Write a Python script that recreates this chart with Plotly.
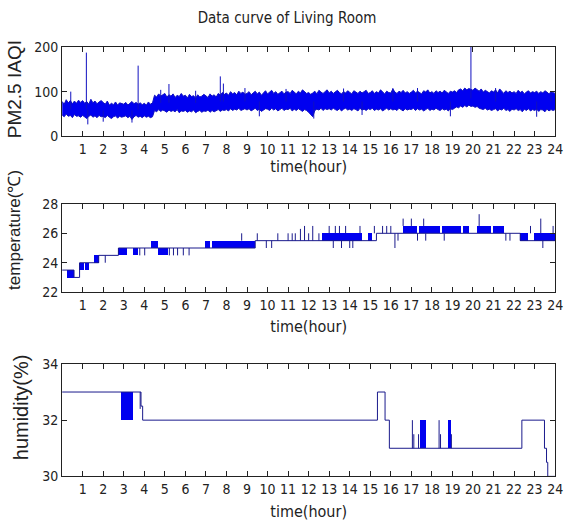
import plotly.graph_objects as go

# ---------------- data ----------------
tick_hours = list(range(1, 25))

# PM2.5 IAQI noisy band, read every 0.1 hour: upper and lower edge of the band
pm_step = 0.1
pm_hi = [
    78, 72, 82, 75, 80, 73, 79, 74, 81, 76,
    80, 74, 78, 72, 83, 75, 79, 73, 77, 80,
    76, 72, 79, 70, 74, 71, 77, 70, 75, 73,
    72, 76, 70, 74, 78, 73, 76, 72, 75, 71,
    74, 70, 77, 72, 75, 92, 88, 95, 90, 93,
    96, 88, 93, 90, 95, 87, 92, 89, 96, 90,
    92, 86, 94, 89, 91, 85, 93, 88, 90, 94,
    91, 87, 95, 90, 93, 88, 96, 92, 98, 94,
    97, 92, 100, 95, 98, 93, 101, 96, 99, 94,
    96, 100, 93, 97, 101, 95, 99, 92, 98, 102,
    95, 99, 103, 96, 100, 94, 98, 101, 95, 99,
    100, 96, 103, 98, 95, 101, 97, 104, 99, 96,
    98, 94, 97, 101, 95, 103, 99, 96, 100, 104,
    97, 101, 96, 99, 103, 98, 95, 100, 97, 102,
    99, 95, 102, 98, 96, 101, 97, 100, 103, 96,
    98, 102, 96, 100, 97, 104, 99, 95, 101, 98,
    97, 106, 99, 96, 101, 98, 103, 97, 100, 96,
    99, 103, 97, 101, 98, 95, 102, 99, 104, 97,
    100, 96, 102, 98, 101, 97, 103, 99, 96, 101,
    99, 102, 98, 104, 106, 102, 108, 104, 107, 105,
    103, 108, 104, 101, 106, 99, 103, 100, 97, 102,
    99, 104, 97, 106, 100, 96, 102, 98, 101, 97,
    100, 96, 103, 98, 101, 95, 99, 102, 97, 100,
    98, 101, 96, 100, 97, 102, 99, 95, 100, 97,
    96,
]
pm_lo = [
    48, 44, 50, 45, 47, 42, 49, 45, 46, 43,
    47, 44, 40, 45, 48, 43, 46, 42, 47, 44,
    45, 42, 47, 43, 40, 44, 46, 41, 45, 43,
    44, 46, 42, 45, 38, 44, 47, 43, 45, 42,
    46, 43, 45, 42, 44, 58, 55, 60, 56, 59,
    57, 54, 59, 56, 58, 55, 60, 53, 57, 56,
    58, 54, 57, 55, 59, 53, 56, 58, 54, 57,
    56, 59, 54, 58, 55, 57, 60, 56, 59, 58,
    60, 57, 62, 58, 61, 59, 63, 58, 60, 62,
    59, 62, 57, 60, 63, 58, 61, 56, 60, 62,
    61, 58, 63, 59, 62, 57, 60, 63, 58, 61,
    60, 63, 57, 61, 58, 62, 59, 56, 60, 58,
    54, 50, 44, 58, 61, 59, 63, 58, 62, 60,
    62, 59, 63, 60, 58, 62, 57, 61, 63, 59,
    61, 58, 62, 60, 57, 63, 59, 61, 58, 62,
    60, 63, 58, 61, 59, 62, 57, 60, 63, 59,
    62, 59, 61, 58, 63, 60, 57, 62, 59, 61,
    60, 63, 58, 62, 59, 61, 57, 60, 63, 58,
    61, 59, 63, 60, 58, 62, 59, 61, 57, 62,
    60, 63, 66, 64, 68, 65, 69, 66, 70, 67,
    68, 65, 67, 63, 62, 60, 63, 59, 61, 58,
    60, 62, 57, 61, 59, 63, 58, 60, 56, 61,
    59, 62, 58, 60, 55, 61, 58, 62, 57, 60,
    58, 61, 56, 60, 59, 55, 61, 57, 60, 58,
    60,
]
pm_time = [i * pm_step for i in range(len(pm_hi))]
# isolated peaks / dips of PM2.5 (time, band level, extreme value)
pm_spk_t = [0.42, 1.18, 1.25, 2.0, 3.4, 3.7, 4.8, 5.2, 6.5, 7.7, 7.85, 8.9, 9.6,
            10.9, 12.25, 13.7, 14.6, 16.1, 17.3, 18.9, 19.9, 21.1, 23.1, 23.8]
pm_spk_base = [60, 62, 60, 58, 58, 60, 75, 75, 75, 78, 78, 78, 78,
               78, 78, 78, 78, 78, 78, 78, 85, 78, 78, 78]
pm_spk_val = [100, 187, 27, 33, 31, 158, 104, 117, 102, 134, 118, 108, 45,
              106, 40, 107, 48, 108, 108, 45, 205, 108, 44, 100]

# Temperature: base step level + rapid-oscillation blocks + single spikes
temp_base_t = [0, 0.58, 0.85, 1.78, 2.74, 9.4, 15.3, 22.3, 24]
temp_base_v = [23.5, 23.0, 24.0, 24.5, 25.0, 25.5, 26.0, 25.5, 25.5]
temp_blk_start = [0.26, 0.85, 1.12, 1.58, 2.74, 3.46, 4.34, 4.69, 6.98, 7.3, 12.66, 14.9,
                  16.6, 17.4, 18.5, 19.5, 20.2, 21.0, 22.3, 23.0]
temp_blk_end = [0.58, 1.05, 1.30, 1.78, 3.18, 3.70, 4.66, 5.14, 7.2, 9.4, 14.6, 15.1,
                17.3, 18.4, 19.4, 19.8, 20.9, 21.5, 22.7, 24.0]
temp_blk_low = [23.0, 23.5, 23.5, 24.0, 24.5, 24.5, 25.0, 24.5, 25.0, 25.0, 25.5, 25.5,
                26.0, 26.0, 26.0, 26.0, 26.0, 26.0, 25.5, 25.5]
temp_blk_high = [23.5, 24.0, 24.0, 24.5, 25.0, 25.0, 25.5, 25.0, 25.5, 25.5, 26.0, 26.0,
                 26.5, 26.5, 26.5, 26.5, 26.5, 26.5, 26.0, 26.0]
temp_spk_t = [2.1, 3.78, 4.02, 5.22, 5.42, 5.62, 5.9, 6.18, 8.74, 9.5, 9.94, 10.2, 10.5,
              11.0, 11.2, 11.35, 11.6, 11.8, 12.0, 12.2, 12.5, 13.2, 13.6, 14.0, 14.15,
              13.0, 13.3, 13.5, 13.8, 14.5, 15.2, 15.6, 15.8, 16.0, 16.2, 16.35,
              16.6, 17.0, 17.6, 18.6, 17.3, 17.7, 20.3, 21.6, 21.8, 22.8, 23.3, 23.4, 23.9]
temp_spk_low = [24.0, 24.5, 24.5, 24.5, 24.5, 24.5, 24.5, 24.5, 25.5, 25.5, 25.0, 25.0, 25.5,
                25.5, 25.5, 25.5, 25.5, 25.5, 25.5, 25.5, 25.5, 25.0, 25.0, 25.0, 25.0,
                26.0, 26.0, 26.0, 26.0, 26.0, 26.0, 26.0, 26.0, 26.0, 25.0, 25.5,
                26.5, 26.5, 26.5, 25.5, 25.5, 25.5, 26.5, 25.5, 25.5, 26.0, 26.0, 25.0, 26.0]
temp_spk_high = [24.5, 25.0, 25.0, 25.0, 25.0, 25.0, 25.0, 25.0, 26.0, 26.0, 25.5, 25.5, 26.0,
                 26.0, 26.0, 26.0, 26.3, 26.5, 26.0, 26.5, 26.0, 25.5, 25.5, 25.5, 25.5,
                 26.5, 26.5, 26.5, 26.5, 26.5, 26.5, 26.5, 26.5, 26.5, 26.0, 26.0,
                 27.0, 27.0, 27.0, 26.0, 26.0, 26.0, 27.3, 26.0, 26.0, 26.5, 27.0, 25.5, 26.5]

# Humidity
hum_base_t = [0, 3.84, 3.92, 15.35, 15.72, 15.93, 22.38, 23.48, 23.58, 23.64, 24]
hum_base_v = [33, 32.5, 32, 33, 32, 31, 32, 31, 30.5, 30, 30]
hum_blk_start = [2.86, 17.42, 18.78]
hum_blk_end = [3.48, 17.72, 18.92]
hum_blk_low = [32, 31, 31]
hum_blk_high = [33, 32, 32]
hum_spk_t = [3.80, 17.05, 17.12, 17.35, 18.35, 18.42, 18.95]
hum_spk_low = [32.4, 31, 31, 31, 31, 31, 31]
hum_spk_high = [33, 32, 31.5, 31.5, 32, 31.5, 31.5]

# ---------------- styling ----------------
LINE = "#1a1a8c"
FILL = "#0000f0"
EDGE = "#1010c0"
NARROW = "Liberation Sans Narrow, Arial Narrow, DejaVu Sans Condensed, Liberation Sans, Arial"
REG = "Liberation Sans, Arial, sans-serif"
W, H = 574, 529


def py(px):
    return 1 - px / H


fig = go.Figure()


def add_blocks(starts, ends, lows, highs, xa, ya):
    fig.add_trace(go.Bar(
        x=[(a + b) / 2 for a, b in zip(starts, ends)],
        y=[h - l for l, h in zip(lows, highs)],
        base=lows,
        width=[b - a for a, b in zip(starts, ends)],
        marker=dict(color=FILL, line=dict(width=0)),
        xaxis=xa, yaxis=ya, showlegend=False, hoverinfo="skip"))


def add_spikes(ts, lows, highs, xa, ya, color):
    xs, ys = [], []
    for t, l, h in zip(ts, lows, highs):
        xs += [t, t, None]
        ys += [l, h, None]
    fig.add_trace(go.Scatter(x=xs, y=ys, mode="lines", line=dict(color=color, width=1),
                             xaxis=xa, yaxis=ya, showlegend=False, hoverinfo="skip"))


# panel 1: noisy band (lower edge, then upper edge filled down to it) + peaks
fig.add_trace(go.Scatter(x=pm_time, y=pm_lo, mode="lines",
                         line=dict(color=EDGE, width=1), xaxis="x", yaxis="y",
                         showlegend=False))
fig.add_trace(go.Scatter(x=pm_time, y=pm_hi, mode="lines", fill="tonexty",
                         fillcolor=FILL, line=dict(color=EDGE, width=1),
                         xaxis="x", yaxis="y", showlegend=False))
add_spikes(pm_spk_t, pm_spk_base, pm_spk_val, "x", "y", EDGE)
# panel 2
add_blocks(temp_blk_start, temp_blk_end, temp_blk_low, temp_blk_high, "x2", "y2")
fig.add_trace(go.Scatter(x=temp_base_t, y=temp_base_v, mode="lines", line_shape="hv",
                         line=dict(color=LINE, width=1), xaxis="x2", yaxis="y2",
                         showlegend=False))
add_spikes(temp_spk_t, temp_spk_low, temp_spk_high, "x2", "y2", LINE)
# panel 3
add_blocks(hum_blk_start, hum_blk_end, hum_blk_low, hum_blk_high, "x3", "y3")
fig.add_trace(go.Scatter(x=hum_base_t, y=hum_base_v, mode="lines", line_shape="hv",
                         line=dict(color=LINE, width=1), xaxis="x3", yaxis="y3",
                         showlegend=False))
add_spikes(hum_spk_t, hum_spk_low, hum_spk_high, "x3", "y3", LINE)

xdom = [63 / W, 563 / W]
# (axis suffix, domain px, range, ticks, y label, label size, label centre x/y px,
#  x-title standoff)
panels = [
    ("", [132.5, 40], [0, 200], [0, 100, 200], "PM2.5 IAQI", 19, 15, 84, 4),
    ("2", [293, 202], [22, 28], [22, 24, 26, 28], "temperature(℃)", 17, 14, 229, 8),
    ("3", [483, 367], [30, 34], [30, 32, 34], "humidity(%)", 20, 21, 412, 9),
]
axis_common = dict(showline=True, linecolor="#222", linewidth=1, mirror="ticks",
                   ticks="inside", ticklen=5, tickcolor="#222", showgrid=False,
                   zeroline=False, tickfont=dict(family=NARROW, size=14, color="#222"))
annotations = []
for s, dom, yr, yt, ylab, ysz, lx, ly, xstand in panels:
    fig.layout["xaxis" + s] = dict(
        domain=xdom, anchor="y" + s, range=[0, 24], tickvals=tick_hours,
        ticktext=[str(h) for h in tick_hours],
        title=dict(text="time(hour)", font=dict(family=NARROW, size=16, color="#222"),
                   standoff=xstand),
        **axis_common)
    fig.layout["yaxis" + s] = dict(
        domain=[py(dom[0]), py(dom[1])], anchor="x" + s, range=yr, tickvals=yt,
        **axis_common)
    annotations.append(dict(text=ylab, textangle=-90, xref="paper", yref="paper",
                            x=lx / W, y=py(ly), xanchor="center", yanchor="middle",
                            showarrow=False,
                            font=dict(family=REG, size=ysz, color="#222")))

fig.update_layout(
    width=W, height=H, margin=dict(l=0, r=0, t=0, b=0),
    paper_bgcolor="white", plot_bgcolor="white", barmode="overlay", bargap=0,
    annotations=annotations,
    title=dict(text="Data curve of Living Room", x=287 / W, xanchor="center",
               y=py(18), yanchor="middle",
               font=dict(family=NARROW, size=15, color="#222")),
)

# remove the default page margin so the figure sits at the window origin
fig.write_html("out.html", config={"displayModeBar": False},
               post_script="document.body.style.margin='0px';"
                           "document.body.style.overflow='hidden';")
